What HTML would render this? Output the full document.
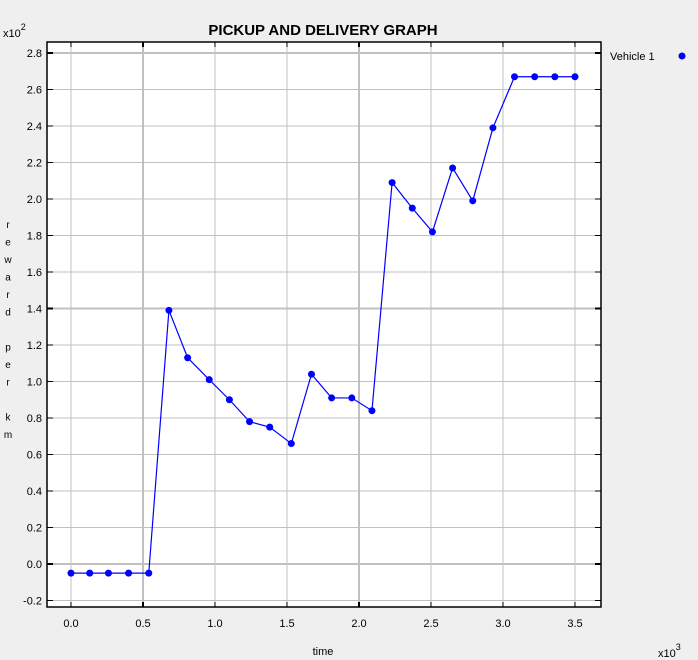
<!DOCTYPE html>
<html><head><meta charset="utf-8"><style>
body{margin:0;background:#efefef;}
svg{display:block;font-family:"Liberation Sans",sans-serif;}
</style></head><body>
<svg id="chart" width="698" height="660" xmlns="http://www.w3.org/2000/svg">
<rect width="698" height="660" fill="#efefef"/>
<text x="323" y="35" text-anchor="middle" font-size="15" font-weight="bold" fill="#000">PICKUP AND DELIVERY GRAPH</text>
<text x="3" y="37" font-size="11" fill="#000">x10<tspan dy="-7" font-size="9">2</tspan></text>
<text x="658" y="657" font-size="11" fill="#000">x10<tspan dy="-7" font-size="9">3</tspan></text>
<text x="323" y="655" text-anchor="middle" font-size="11" fill="#000">time</text>
<g id="ylabel" font-size="10" fill="#000" text-anchor="middle"></g>
<rect x="47" y="42" width="554" height="565" fill="#fff"/>
<g id="grid"></g>
<g id="axes"></g>
<g id="series"></g>
<rect x="47" y="42" width="554" height="565" fill="none" stroke="#000" stroke-width="1.5"/>
<g>
<text x="610" y="60" font-size="11" fill="#000">Vehicle 1</text>
<circle cx="682" cy="56" r="3.5" fill="#0000ff"/>
</g>
</svg>
<script>
const xVals=[0.0,0.13,0.26,0.40,0.54,0.68,0.81,0.96,1.10,1.24,1.38,1.53,1.67,1.81,1.95,2.09,2.23,2.37,2.51,2.65,2.79,2.93,3.08,3.22,3.36,3.50];
const yVals=[-0.05,-0.05,-0.05,-0.05,-0.05,1.39,1.13,1.01,0.90,0.78,0.75,0.66,1.04,0.91,0.91,0.84,2.09,1.95,1.82,2.17,1.99,2.39,2.67,2.67,2.67,2.67];
const xTicks=[0.0,0.5,1.0,1.5,2.0,2.5,3.0,3.5];
const yTicks=[-0.2,0.0,0.2,0.4,0.6,0.8,1.0,1.2,1.4,1.6,1.8,2.0,2.2,2.4,2.6,2.8];
const yLabelChars=["r","e","w","a","r","d","","p","e","r","","k","m"];
const NS="http://www.w3.org/2000/svg";
const X=v=>71+v*144;
const Y=v=>564-v*182.5;
function mk(tag,attrs,parent){const e=document.createElementNS(NS,tag);for(const k in attrs)e.setAttribute(k,attrs[k]);parent.appendChild(e);return e;}
const grid=document.getElementById('grid'),axes=document.getElementById('axes'),series=document.getElementById('series'),yl=document.getElementById('ylabel');
xTicks.forEach(t=>{
 const major=(t===0.5||t===2.0);
 const l=mk('line',{x1:X(t),x2:X(t),y1:42,y2:607,stroke:'#c0c0c0','stroke-width':major?2:1},grid);
 
 
 mk('line',{x1:X(t),x2:X(t),y1:42,y2:47,stroke:'#000','stroke-width':major?2:1},axes);
 mk('line',{x1:X(t),x2:X(t),y1:602,y2:607,stroke:'#000','stroke-width':major?2:1},axes);
 const tx=mk('text',{x:X(t),y:627,'text-anchor':'middle','font-size':11,fill:'#000'},axes);
 tx.textContent=t.toFixed(1);
 
 
});
yTicks.forEach(t=>{
 const r=Math.round(t*10);
 const major=(r===0||r===14||r===28);
 const l=mk('line',{x1:47,x2:601,y1:Y(t),y2:Y(t),stroke:'#c0c0c0','stroke-width':major?2:1},grid);
 
 
 mk('line',{x1:47,x2:53,y1:Y(t),y2:Y(t),stroke:'#000','stroke-width':major?2:1},axes);
 mk('line',{x1:595,x2:601,y1:Y(t),y2:Y(t),stroke:'#000','stroke-width':major?2:1},axes);
 const tx=mk('text',{x:42,y:Y(t)+4,'text-anchor':'end','font-size':11,fill:'#000'},axes);
 tx.textContent=t.toFixed(1);
 
 
});
yLabelChars.forEach((c,i)=>{const t=mk('text',{x:8,y:228+i*17.5},yl);t.textContent=c;});
const pl=mk('polyline',{points:xVals.map((x,i)=>X(x)+','+Y(yVals[i])).join(' '),fill:'none',stroke:'#0000ff','stroke-width':1.2},series);


xVals.forEach((x,i)=>{
 const c=mk('circle',{cx:X(x),cy:Y(yVals[i]),r:3.5,fill:'#0000ff'},series);
 
 
});
</script>
</body></html>
